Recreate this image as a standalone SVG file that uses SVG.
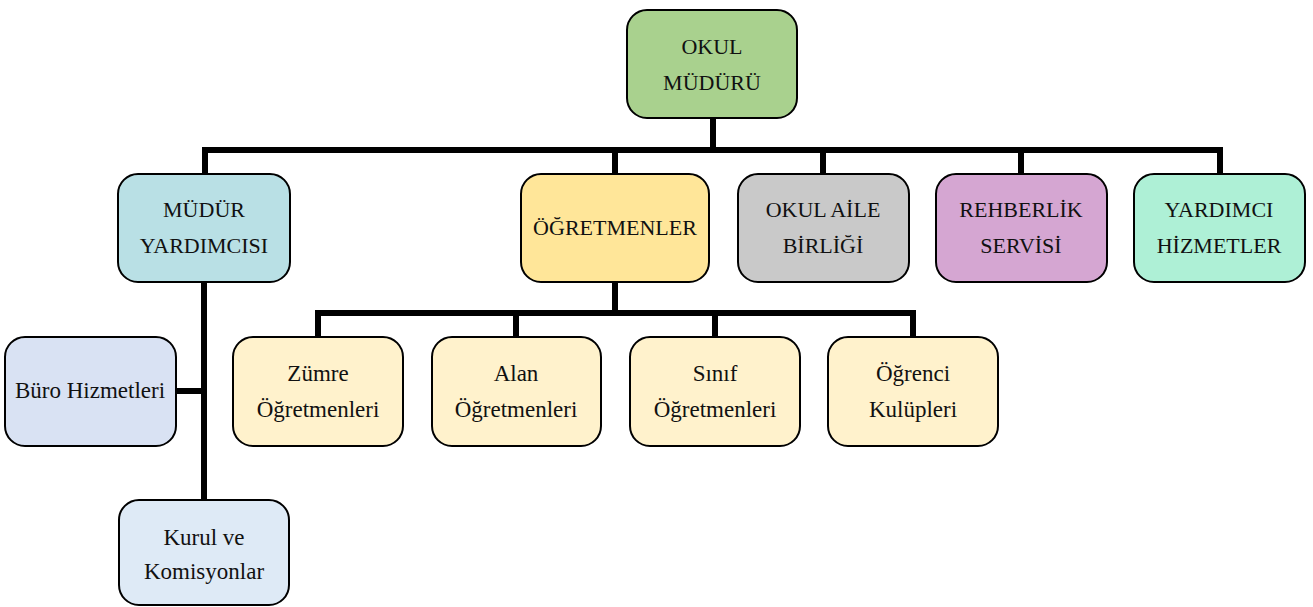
<svg xmlns="http://www.w3.org/2000/svg" width="1313" height="607" viewBox="0 0 1313 607">
<style>
.b{stroke:#000;stroke-width:2}
text{font-family:"Liberation Serif","DejaVu Serif",serif;font-size:22px;fill:#111;text-anchor:middle}
.l{font-size:23px}
.c{fill:none;stroke:#000;stroke-width:6}
</style>
<rect width="1313" height="607" fill="#fff"/>
<g id="connectors">
<path class="c" d="M713 118V150M205 150H1220M205 147V174M615 150V174M823 150V174M1021 150V174M1220 147V174"/>
<path class="c" d="M204 283V500M176 391H204"/>
<path class="c" d="M615 282V313M318 313H913M318 310V337M516 313V337M715 313V337M913 310V337"/>
</g>
<g id="okul-muduru"><rect class="b" x="627" y="10" width="170" height="108" rx="20" fill="#A9D18E"/><text x="712" y="54">OKUL</text><text x="712" y="90">MÜDÜRÜ</text></g>
<g id="mudur-yardimcisi"><rect class="b" x="118" y="174" width="172" height="108" rx="20" fill="#B9E0E5"/><text x="204" y="217">MÜDÜR</text><text x="204" y="253">YARDIMCISI</text></g>
<g id="ogretmenler"><rect class="b" x="521" y="174" width="188" height="108" rx="20" fill="#FFE699"/><text x="615" y="235">ÖĞRETMENLER</text></g>
<g id="okul-aile"><rect class="b" x="738" y="174" width="171" height="108" rx="20" fill="#C9C9C9"/><text x="823" y="217">OKUL AİLE</text><text x="823" y="253">BİRLİĞİ</text></g>
<g id="rehberlik"><rect class="b" x="936" y="174" width="171" height="108" rx="20" fill="#D5A6D2"/><text x="1021" y="217">REHBERLİK</text><text x="1021" y="253">SERVİSİ</text></g>
<g id="yardimci"><rect class="b" x="1134" y="174" width="171" height="108" rx="20" fill="#AEF0D6"/><text x="1219" y="217">YARDIMCI</text><text x="1219" y="253">HİZMETLER</text></g>
<g id="buro"><rect class="b" x="5" y="337" width="171" height="109" rx="20" fill="#D9E2F3"/><text class="l" x="90" y="398">Büro Hizmetleri</text></g>
<g id="kurul"><rect class="b" x="119" y="500" width="170" height="105" rx="20" fill="#DEEAF6"/><text class="l" x="204" y="545">Kurul ve</text><text class="l" x="204" y="579">Komisyonlar</text></g>
<g id="zumre"><rect class="b" x="233" y="337" width="170" height="109" rx="20" fill="#FFF2CC"/><text class="l" x="318" y="381">Zümre</text><text class="l" x="318" y="417">Öğretmenleri</text></g>
<g id="alan"><rect class="b" x="432" y="337" width="169" height="109" rx="20" fill="#FFF2CC"/><text class="l" x="516" y="381">Alan</text><text class="l" x="516" y="417">Öğretmenleri</text></g>
<g id="sinif"><rect class="b" x="630" y="337" width="170" height="109" rx="20" fill="#FFF2CC"/><text class="l" x="715" y="381">Sınıf</text><text class="l" x="715" y="417">Öğretmenleri</text></g>
<g id="ogrenci"><rect class="b" x="828" y="337" width="170" height="109" rx="20" fill="#FFF2CC"/><text class="l" x="913" y="381">Öğrenci</text><text class="l" x="913" y="417">Kulüpleri</text></g>
</svg>
